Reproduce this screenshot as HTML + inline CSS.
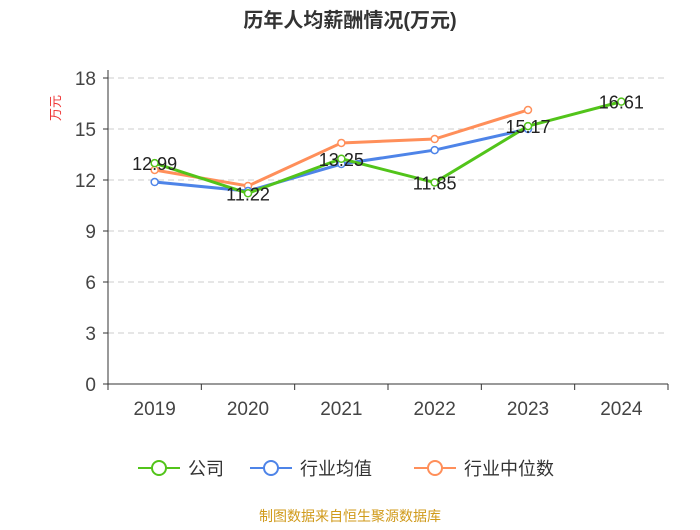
<!DOCTYPE html>
<html><head><meta charset="utf-8"><style>
body{margin:0;background:#fff;font-family:"Liberation Sans","Noto Sans CJK SC",sans-serif}
</style></head><body>
<svg id="chart" width="700" height="525" xmlns="http://www.w3.org/2000/svg" font-family="Liberation Sans, Noto Sans CJK SC, sans-serif">
<text x="350" y="27" text-anchor="middle" font-size="20" font-weight="bold" fill="#333">历年人均薪酬情况(万元)</text>
<text x="60" y="108" font-size="13" fill="#e33" text-anchor="middle" transform="rotate(-90 60 108)">万元</text>
<g id="grid"></g><g id="axes"></g><g id="series"></g>
<g>
<g><line x1="138" y1="468" x2="180" y2="468" stroke="#52c41a" stroke-width="2"/><circle cx="159" cy="468" r="7" fill="#fff" stroke="#52c41a" stroke-width="2"/><text x="188" y="475" font-size="18" fill="#333">公司</text></g>
<g><line x1="250" y1="468" x2="292" y2="468" stroke="#4e84e8" stroke-width="2"/><circle cx="271" cy="468" r="7" fill="#fff" stroke="#4e84e8" stroke-width="2"/><text x="300" y="475" font-size="18" fill="#333">行业均值</text></g>
<g><line x1="414" y1="468" x2="456" y2="468" stroke="#ff8f5a" stroke-width="2"/><circle cx="435" cy="468" r="7" fill="#fff" stroke="#ff8f5a" stroke-width="2"/><text x="464" y="475" font-size="18" fill="#333">行业中位数</text></g>
</g>
<text x="350" y="521" text-anchor="middle" font-size="14" fill="#d09a1a">制图数据来自恒生聚源数据库</text>
</svg>
<script>
const categories=['2019','2020','2021','2022','2023','2024'];
const companyValues=[12.99,11.22,13.25,11.85,15.17,16.61];
const industryAvg=[11.88,11.35,12.94,13.76,15.0,null];
const industryMedian=[12.59,11.65,14.18,14.41,16.12,null];
const yTicks=[0,3,6,9,12,15,18];
const NS='http://www.w3.org/2000/svg';
const x0=108,x1=668,yTop=78,yBot=384,yMax=18;
const band=(x1-x0)/categories.length;
function xs(i){return x0+band*(i+0.5);}
function ys(v){return yBot-(v/yMax)*(yBot-yTop);}
function mk(tag,attrs,parent){const e=document.createElementNS(NS,tag);for(const k in attrs)e.setAttribute(k,attrs[k]);parent.appendChild(e);return e;}
const grid=document.getElementById('grid'),axes=document.getElementById('axes'),ser=document.getElementById('series');
yTicks.forEach(t=>{
 const y=ys(t);
 if(t>0){const l=mk('line',{x1:x0,x2:x1,y1:y,y2:y,stroke:'#ccc','stroke-dasharray':'6,4'},grid);
 
 }
 const tk=mk('line',{x1:x0-5,x2:x0,y1:y,y2:y,stroke:'#333'},axes);
 
 
 const tx=mk('text',{x:x0-12,y:y+7,'text-anchor':'end','font-size':'19',fill:'#444'},axes);tx.textContent=t;
 
 
});
const ya=mk('line',{x1:x0,x2:x0,y1:yTop-8,y2:yBot,stroke:'#333'},axes);


const xa=mk('line',{x1:x0,x2:x1,y1:yBot,y2:yBot,stroke:'#333'},axes);


for(let i=0;i<=categories.length;i++){const t=mk('line',{x1:x0+band*i,x2:x0+band*i,y1:yBot,y2:yBot+6,stroke:'#333'},axes);
 
 }
categories.forEach((c,i)=>{const t=mk('text',{x:xs(i),y:yBot+31,'text-anchor':'middle','font-size':'19',fill:'#444'},axes);t.textContent=c;
 
 });
function draw(vals,color,name,labels){
 const pts=[];vals.forEach((v,i)=>{if(v!=null)pts.push([xs(i),ys(v),v]);});
 const p=mk('polyline',{points:pts.map(p=>p[0]+','+p[1]).join(' '),fill:'none',stroke:color,'stroke-width':3},ser);
 
 
 pts.forEach(q=>{const c=mk('circle',{cx:q[0],cy:q[1],r:3.5,fill:'#fff',stroke:color,'stroke-width':1.5},ser);
  
  });
 if(labels)pts.forEach(q=>{const t=mk('text',{x:q[0],y:q[1]+7,'text-anchor':'middle','font-size':'18',fill:'#222'},ser);t.textContent=q[2].toFixed(2);
  
  });
}
draw(industryMedian,'#ff8f5a','industry-median',false);
draw(industryAvg,'#4e84e8','industry-avg',false);
draw(companyValues,'#52c41a','company',true);
</script>
</body></html>
